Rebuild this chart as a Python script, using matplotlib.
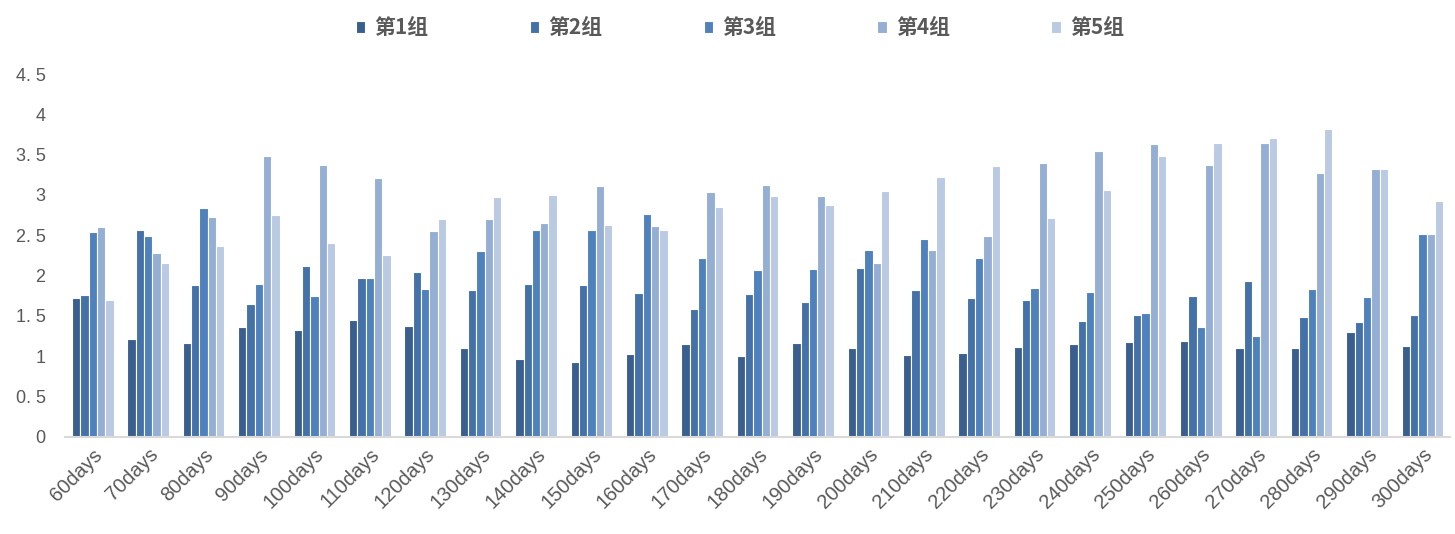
import numpy as np
import matplotlib as mpl
mpl.use("Agg")
from matplotlib import pyplot as plt

mpl.rcParams['font.family'] = ['Liberation Sans', 'Noto Sans CJK SC', 'DejaVu Sans']

days = [f"{d}days" for d in range(60, 301, 10)]
series_names = ["第1组", "第2组", "第3组", "第4组", "第5组"]

g1 = [1.72, 1.21, 1.16, 1.36, 1.33, 1.45, 1.37, 1.10, 0.97, 0.93, 1.03, 1.15, 1.00,
      1.16, 1.10, 1.01, 1.04, 1.11, 1.15, 1.17, 1.19, 1.10, 1.10, 1.30, 1.13]
g2 = [1.76, 2.56, 1.88, 1.65, 2.12, 1.97, 2.04, 1.82, 1.89, 1.88, 1.78, 1.59, 1.77,
      1.67, 2.09, 1.82, 1.72, 1.70, 1.44, 1.51, 1.75, 1.93, 1.49, 1.42, 1.51]
g3 = [2.54, 2.49, 2.84, 1.89, 1.74, 1.97, 1.83, 2.30, 2.56, 2.56, 2.76, 2.22, 2.07,
      2.08, 2.32, 2.45, 2.22, 1.85, 1.80, 1.53, 1.36, 1.25, 1.83, 1.73, 2.52]
g4 = [2.60, 2.28, 2.72, 3.48, 3.37, 3.21, 2.55, 2.70, 2.65, 3.11, 2.61, 3.04, 3.12,
      2.99, 2.15, 2.32, 2.49, 3.40, 3.54, 3.63, 3.37, 3.64, 3.27, 3.32, 2.52]
g5 = [1.69, 2.16, 2.37, 2.75, 2.40, 2.25, 2.70, 2.97, 3.00, 2.63, 2.57, 2.85, 2.99,
      2.87, 3.05, 3.22, 3.36, 2.71, 3.06, 3.48, 3.64, 3.70, 3.82, 3.32, 2.93]

colors = ["#3A5F8F", "#4472A8", "#4F81BD", "#95AED4", "#BACAE3"]
yticks = [0, 0.5, 1, 1.5, 2, 2.5, 3, 3.5, 4, 4.5]
ytick_labels = ["0", "0. 5", "1", "1. 5", "2", "2. 5", "3", "3. 5", "4", "4. 5"]

fig = plt.figure(figsize=(14.55, 5.34), dpi=100)
ax = fig.add_axes([0.0447, 0.1822, 0.952, 0.6792])

x = np.arange(len(days))
w = 0.15
for i, vals in enumerate([g1, g2, g3, g4, g5]):
  ax.bar(x + (i - 2) * w, vals, width=w, color=colors[i], edgecolor="white",
         linewidth=0.8, label=series_names[i])

ax.set_xlim(-0.5, len(days) - 0.5)
ax.set_ylim(0, 4.5)
ax.set_yticks(yticks)
ax.set_yticklabels(ytick_labels, fontsize=13, color="#595959")
ax.set_xticks(x)
ax.set_xticklabels(days, rotation=45, ha="right", rotation_mode="anchor",
                   fontsize=14.5, color="#595959")
ax.tick_params(axis="both", length=0)
ax.tick_params(axis="y", pad=14)
ax.tick_params(axis="x", pad=6)
for s in ["left", "right", "top"]:
  ax.spines[s].set_visible(False)
ax.spines["bottom"].set_color("#D9D9D9")
ax.spines["bottom"].set_linewidth(1.5)

leg = fig.legend(loc="center", bbox_to_anchor=(0.5086, 0.9476), ncol=5, frameon=False,
                 handlelength=0.45, handleheight=0.45, handletextpad=0.45,
                 columnspacing=4.85,
                 prop={"family": ["Noto Sans CJK SC", "DejaVu Sans"], "size": 15, "weight": "bold"})
for t in leg.get_texts():
  t.set_color("#595959")

plt.savefig("out.png", dpi=100)
